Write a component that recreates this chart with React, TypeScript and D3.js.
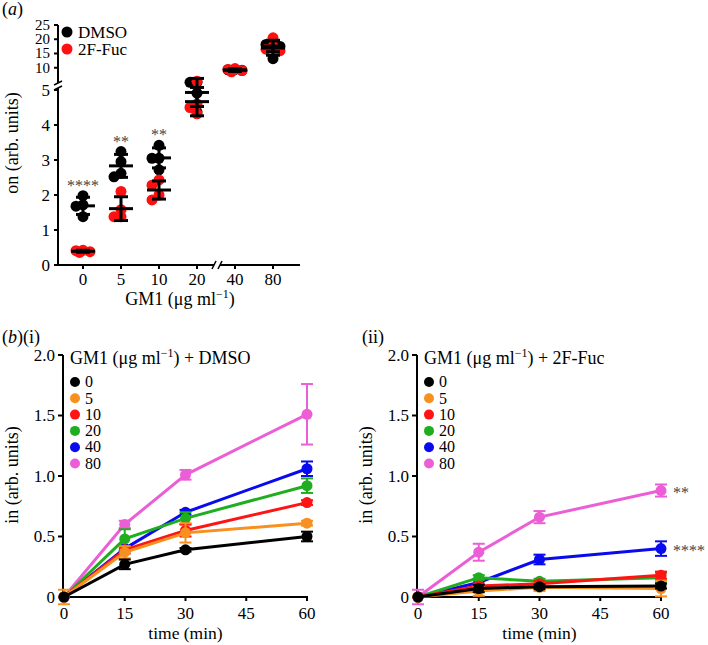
import * as d3 from 'd3'

// panel (a): binding at each GM1 dose, 4 replicates per group
const doses = ['0', '5', '10', '20', '40', '80']
const dmsoDots = [
  [1.98, 1.72, 1.68, 1.38],
  [3.24, 2.62, 2.52, 2.95],
  [3.42, 3.05, 3.05, 2.72],
  [5.22, 5.22, 4.91, 4.37],
  [9.3, 9.0, 9.4, 9.1],
  [18.8, 18.2, 17.5, 13.2],
]
const fucDots = [
  [0.42, 0.36, 0.38, 0.41],
  [2.1, 1.58, 1.38, 1.38],
  [2.43, 2.28, 1.86, 2.0],
  [5.25, 4.6, 4.5, 4.32],
  [8.6, 9.0, 9.4, 9.7],
  [20.5, 17.5, 16.5, 16.0],
]
const sigA = ['****', '**', '**', '', '', '']
const lowTicks = [0, 1, 2, 3, 4, 5]
const highTicks = [10, 15, 20, 25]

// panel (b): uptake over time
const times = [0, 15, 30, 60]
const timeTicks = [0, 15, 30, 45, 60]
const yTicksB = [0, 0.5, 1.0, 1.5, 2.0]
const dmsoMean = [
  [0, 0.27, 0.39, 0.5],
  [0, 0.37, 0.53, 0.61],
  [0, 0.39, 0.55, 0.78],
  [0, 0.48, 0.65, 0.92],
  [0, 0.4, 0.7, 1.06],
  [0, 0.6, 1.01, 1.51],
]
const dmsoErr = [
  [0, 0.04, 0.015, 0.04],
  [0.06, 0.05, 0.08, 0.02],
  [0, 0.03, 0.05, 0.02],
  [0, 0.08, 0.05, 0.06],
  [0, 0.02, 0.02, 0.06],
  [0, 0.03, 0.04, 0.25],
]
const fucMean = [
  [0, 0.07, 0.085, 0.09],
  [0, 0.05, 0.08, 0.07],
  [0, 0.09, 0.11, 0.18],
  [0, 0.16, 0.13, 0.16],
  [0, 0.12, 0.31, 0.4],
  [0, 0.37, 0.66, 0.88],
]
const fucErr = [
  [0, 0.03, 0.02, 0.02],
  [0, 0.04, 0.03, 0.065],
  [0, 0.02, 0.02, 0.03],
  [0, 0.02, 0.02, 0.04],
  [0, 0.03, 0.04, 0.06],
  [0.06, 0.07, 0.05, 0.05],
]
const fucSig = ['', '', '', '', '****', '**']
const doseColors = ['#000000', '#f7901e', '#ff1414', '#1fae1f', '#0a0aee', '#ec5ed6']

const FONT = 'Liberation Serif'

// ---------- panel (a) scales ----------
const xA = d3.scalePoint<string>().domain(doses).range([83, 273])
const yLow = d3.scaleLinear().domain([0, 5]).range([265, 90])
const yHigh = d3.scaleLinear().domain([5, 25]).range([82, 25])
const yA = (v: number) => (v < 7 ? yLow(v) : yHigh(v))

// simple swarm so replicate dots sit side by side
function swarm(vals: number[], cx: number) {
  const cands = [0, -7, 7, -3.5, 3.5]
  const placed: { x: number; y: number }[] = []
  const order = vals.map((v, i) => i).sort((a, b) => vals[b] - vals[a])
  const out: { x: number; y: number }[] = new Array(vals.length)
  order.forEach(i => {
    const y = yA(vals[i])
    let best = cands[0]
    let bestD = -1
    for (const c of cands) {
      const d = placed.length ? d3.min(placed, p => Math.hypot(p.x - (cx + c), p.y - y))! : 99
      if (d >= 7) { best = c; bestD = d; break }
      if (d > bestD) { best = c; bestD = d }
    }
    const p = { x: cx + best, y }
    placed.push(p)
    out[i] = p
  })
  return out
}

function MeanSD({ vals, cx }: { vals: number[]; cx: number }) {
  const m = d3.mean(vals)!
  const sd = d3.deviation(vals)!
  return (
    <g stroke="#000" strokeWidth={3}>
      <line x1={cx - 12} x2={cx + 12} y1={yA(m)} y2={yA(m)} />
      <line x1={cx} x2={cx} y1={yA(m - sd)} y2={yA(m + sd)} />
      <line x1={cx - 7} x2={cx + 7} y1={yA(m - sd)} y2={yA(m - sd)} />
      <line x1={cx - 7} x2={cx + 7} y1={yA(m + sd)} y2={yA(m + sd)} />
    </g>
  )
}

function PanelA() {
  const axX = 58
  return (
    <g fontFamily={FONT}>
      <text x={2} y={15} fontSize={18}>(<tspan fontStyle="italic">a</tspan>)</text>
      {/* y axis with break */}
      <g stroke="#000" strokeWidth={2}>
        <line x1={axX} x2={axX} y1={yHigh(25)} y2={83} />
        <line x1={axX} x2={axX} y1={88} y2={yLow(0) + 1} />
        <line x1={axX - 4} x2={axX + 4} y1={85} y2={81} strokeWidth={1.5} />
        <line x1={axX - 4} x2={axX + 4} y1={90} y2={86} strokeWidth={1.5} />
      </g>
      {lowTicks.map(t => (
        <g key={'l' + t}>
          <line x1={axX - 4} x2={axX} y1={yLow(t)} y2={yLow(t)} stroke="#000" strokeWidth={2} />
          <text x={axX - 8} y={yLow(t)} dy="0.35em" textAnchor="end" fontSize={17}>{t}</text>
        </g>
      ))}
      {highTicks.map(t => (
        <g key={'h' + t}>
          <line x1={axX - 4} x2={axX} y1={yHigh(t)} y2={yHigh(t)} stroke="#000" strokeWidth={2} />
          <text x={axX - 8} y={yHigh(t)} dy="0.33em" textAnchor="end" fontSize={15}>{t}</text>
        </g>
      ))}
      {/* x axis with break */}
      <g stroke="#000" strokeWidth={2}>
        <line x1={axX - 1} x2={214} y1={265} y2={265} />
        <line x1={220} x2={300} y1={265} y2={265} />
        <line x1={212} x2={216} y1={269} y2={261} strokeWidth={1.5} />
        <line x1={218} x2={222} y1={269} y2={261} strokeWidth={1.5} />
      </g>
      {doses.map(d => (
        <g key={'x' + d}>
          <line x1={xA(d)} x2={xA(d)} y1={265} y2={269} stroke="#000" strokeWidth={2} />
          <text x={xA(d)} y={285} textAnchor="middle" fontSize={17}>{d}</text>
        </g>
      ))}
      <text x={180} y={305} textAnchor="middle" fontSize={18}>
        GM1 (μg ml<tspan dy={-7} fontSize={12}>−1</tspan><tspan dy={7}>)</tspan>
      </text>
      <text transform="translate(18,143) rotate(-90)" textAnchor="middle" fontSize={18}>on (arb. units)</text>

      {/* dots */}
      {doses.map((d, i) => (
        <g key={'d' + d}>
          {swarm(dmsoDots[i], xA(d)!).map((p, j) => (
            <circle key={'b' + j} cx={p.x} cy={p.y} r={5.5} fill="#000" />
          ))}
          {swarm(fucDots[i], xA(d)!).map((p, j) => (
            <circle key={'r' + j} cx={p.x} cy={p.y} r={5.5} fill="#ff1010" />
          ))}
          <MeanSD vals={dmsoDots[i]} cx={xA(d)!} />
          <MeanSD vals={fucDots[i]} cx={xA(d)!} />
          {sigA[i] && (
            <text x={xA(d)} y={yA(d3.max(dmsoDots[i])!) - 5} textAnchor="middle" fontSize={16} fill="#444">
              {sigA[i]}
            </text>
          )}
        </g>
      ))}

      {/* legend */}
      <circle cx={67} cy={32} r={5.5} fill="#000" />
      <text x={78} y={32} dy="0.33em" fontSize={17}>DMSO</text>
      <circle cx={67} cy={49} r={5.5} fill="#ff1010" />
      <text x={78} y={49} dy="0.33em" fontSize={17}>2F-Fuc</text>
    </g>
  )
}

function PanelB({ x0, means, errs, sig, title }: {
  x0: number; means: number[][]; errs: number[][]; sig: string[]; title: string
}) {
  const x = d3.scaleLinear().domain([0, 60]).range([x0 + 1, x0 + 244])
  const y = d3.scaleLinear().domain([0, 2]).range([597, 355])
  const line = d3.line<number>().x((_, i) => x(times[i])).y(v => y(v))
  const order = d3.range(means.length).reverse()
  return (
    <g fontFamily={FONT}>
      <line x1={x0} x2={x0} y1={y(2)} y2={y(0) + 1} stroke="#000" strokeWidth={2} />
      <line x1={x0 - 1} x2={x(60) + 1} y1={y(0)} y2={y(0)} stroke="#000" strokeWidth={2} />
      {yTicksB.map(t => (
        <g key={'y' + t}>
          <line x1={x0 - 5} x2={x0} y1={y(t)} y2={y(t)} stroke="#000" strokeWidth={2} />
          <text x={x0 - 8} y={y(t)} dy="0.35em" textAnchor="end" fontSize={17}>
            {t === 0 ? '0' : t.toFixed(1)}
          </text>
        </g>
      ))}
      {timeTicks.map(t => (
        <g key={'x' + t}>
          <line x1={x(t)} x2={x(t)} y1={y(0)} y2={y(0) + 4} stroke="#000" strokeWidth={2} />
          <text x={x(t)} y={619} textAnchor="middle" fontSize={17}>{t}</text>
        </g>
      ))}
      <text x={x(30)} y={639} textAnchor="middle" fontSize={17.5}>time (min)</text>
      <text transform={`translate(${x0 - 45},475) rotate(-90)`} textAnchor="middle" fontSize={18}>in (arb. units)</text>

      {order.map(k => (
        <g key={'s' + k} stroke={doseColors[k]} fill={doseColors[k]}>
          <path d={line(means[k])!} fill="none" strokeWidth={3} />
          {means[k].map((v, i) => {
            const e = errs[k][i]
            const cx = x(times[i])
            return (
              <g key={i}>
                {e > 0 && (
                  <g strokeWidth={2}>
                    <line x1={cx} x2={cx} y1={y(v - e)} y2={y(v + e)} />
                    <line x1={cx - 6} x2={cx + 6} y1={y(v - e)} y2={y(v - e)} />
                    <line x1={cx - 6} x2={cx + 6} y1={y(v + e)} y2={y(v + e)} />
                  </g>
                )}
                <circle cx={cx} cy={y(v)} r={5.5} stroke="none" />
              </g>
            )
          })}
          {sig[k] && (
            <text x={x(60) + 12} y={y(means[k][3]) + 7} fontSize={16} fill="#444" stroke="none">{sig[k]}</text>
          )}
        </g>
      ))}

      <text x={x0 + 7} y={364} fontSize={18}>
        GM1 (μg ml<tspan dy={-7} fontSize={12}>−1</tspan><tspan dy={7}>) + {title}</tspan>
      </text>
      {doses.map((d, i) => (
        <g key={'lg' + d}>
          <circle cx={x0 + 12} cy={382 + i * 16.3} r={5} fill={doseColors[i]} />
          <text x={x0 + 22} y={382 + i * 16.3} dy="0.33em" fontSize={16}>{d}</text>
        </g>
      ))}
    </g>
  )
}

export default function App() {
  return (
    <svg width={708} height={645} style={{ position: 'absolute', left: 0, top: 0, background: '#fff' }}>
      <PanelA />
      <text x={2} y={343} fontSize={18} fontFamily={FONT}>(<tspan fontStyle="italic">b</tspan>)(i)</text>
      <text x={362} y={343} fontSize={18} fontFamily={FONT}>(ii)</text>
      <PanelB x0={63} means={dmsoMean} errs={dmsoErr} sig={['', '', '', '', '', '']} title="DMSO" />
      <PanelB x0={417} means={fucMean} errs={fucErr} sig={fucSig} title="2F-Fuc" />
    </svg>
  )
}
